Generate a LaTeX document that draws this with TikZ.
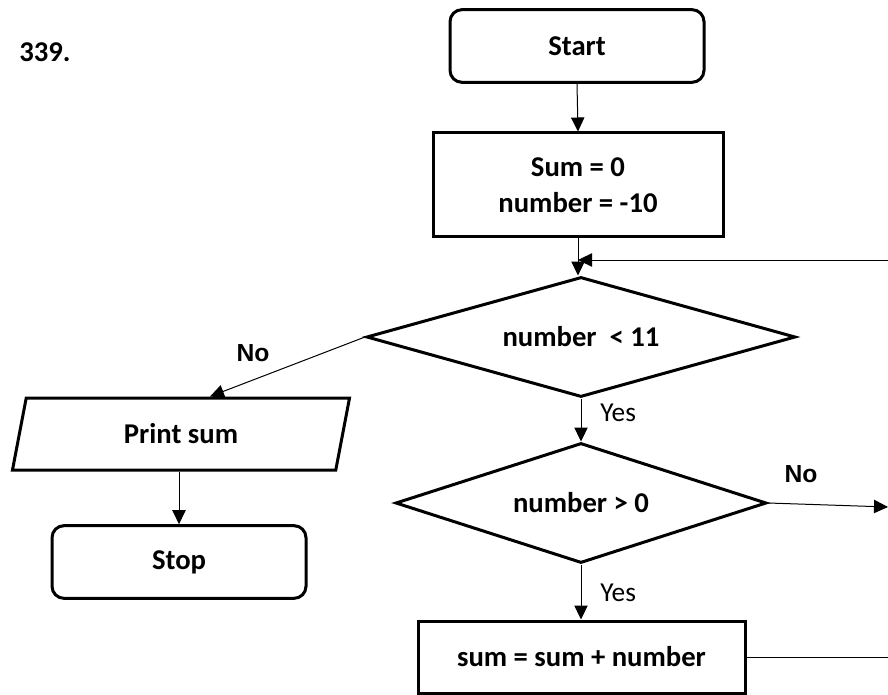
\documentclass[tikz,border=0pt]{standalone}
\usepackage{fontspec}
\setmainfont{Carlito}
\newfontfamily\labelfont{Liberation Sans}
\usetikzlibrary{shapes.geometric,arrows.meta,calc}

\begin{document}
\begin{tikzpicture}[x=0.75pt,y=-0.75pt,
  font=\fontsize{21.5pt}{27pt}\selectfont\bfseries,
  shape border/.style={draw,line width=2.25pt,inner sep=0pt},
  terminal/.style={shape border,rounded corners=9pt,minimum width=190.5pt,minimum height=54.5pt},
  process/.style={shape border,rectangle,align=center},
  decision/.style={shape border,diamond,minimum height=90pt},
  io/.style={shape border,trapezium,trapezium left angle=76,trapezium right angle=104,
    trapezium stretches=true,minimum width=253.5pt,minimum height=54pt},
  conn/.style={line width=0.75pt,-{Triangle[length=10.5pt,width=10pt]}},
  plainline/.style={line width=0.75pt},
  yeslab/.style={font=\fontsize{20.5pt}{24pt}\selectfont,anchor=west,inner sep=0pt},
  nolab/.style={font=\labelfont\fontsize{18.5pt}{22pt}\selectfont\bfseries,inner sep=0pt}
]
\useasboundingbox (0,0) rectangle (888,695);

% heading number
\node[inner sep=0pt] (title) at (45,52) {339.};

% flowchart shapes
\node[terminal] (start) at (577,46) {Start};
\node[process,minimum width=217.5pt,minimum height=78pt] (init) at (578,185) {Sum = 0\\number = -10};
\node[decision,aspect=3.575,minimum width=321.75pt] (d1) at (581,337) {number~~< 11};
\node[io] (print) at (181,434) {Print sum};
\node[terminal] (stop) at (179,562) {Stop};
\node[decision,aspect=3.09,minimum width=278.25pt] (d2) at (581,503) {number > 0};
\node[process,minimum width=245.25pt,minimum height=54pt] (sum) at (581.5,657) {sum = sum + number};

% loose ends at the right edge
\coordinate (retR) at (888,260);
\coordinate (noR) at (888,507);
\coordinate (sumR) at (888,657);

% connectors
\draw[conn] (start.south) -- (init.north);
\draw[conn] (init.south) -- (init.south |- d1.north);
\draw[conn] (retR) -- (retR -| init.south);
\draw[conn] (d1.west) -- ([xshift=21.75pt]print.north);
\draw[conn] (print.south -| stop.north) -- (stop.north);
\draw[conn] (d1.south) -- (d2.north);
\draw[conn] (d2.east) -- (noR);
\draw[conn] (d2.south) -- (sum.north -| d2.south);
\draw[plainline] (sum.east) -- (sumR);

% branch labels
\node[nolab] (no1) at (253,353) {No};
\node[nolab] (no2) at (801,474) {No};
\node[yeslab] (yes1) at (600,413) {Yes};
\node[yeslab] (yes2) at (600,593) {Yes};
\end{tikzpicture}
\end{document}
